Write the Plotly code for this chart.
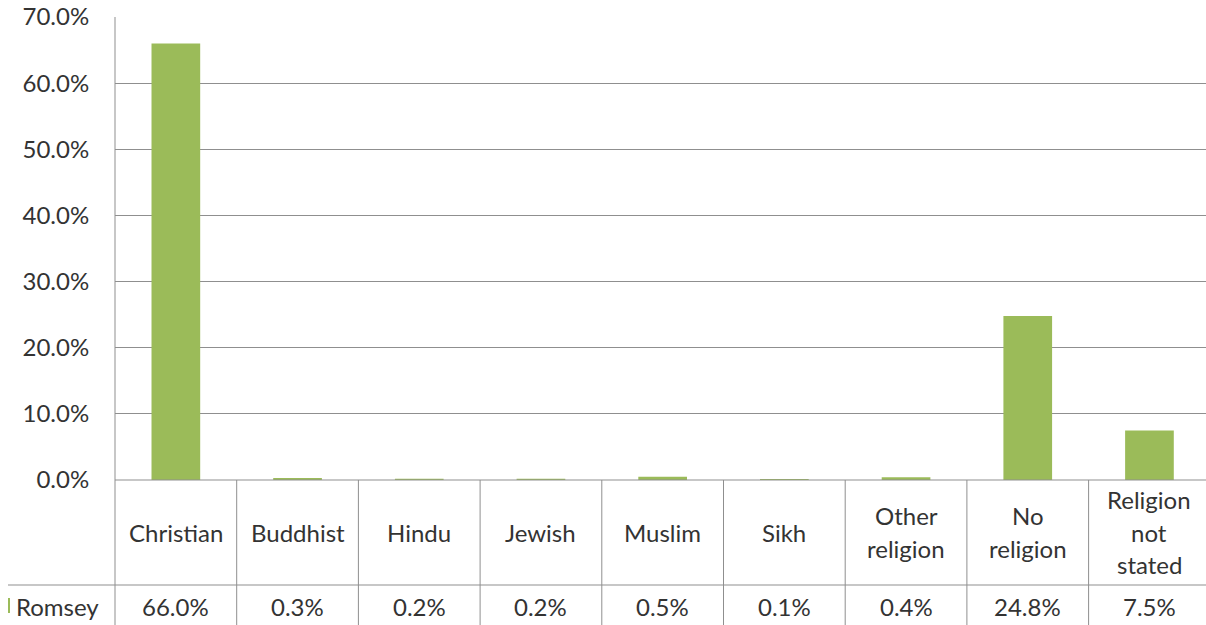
import plotly.graph_objects as go

categories = ["Christian", "Buddhist", "Hindu", "Jewish", "Muslim", "Sikh",
              "Other<br>religion", "No<br>religion", "Religion<br>not<br>stated"]
values = [0.660, 0.003, 0.002, 0.002, 0.005, 0.0014, 0.004, 0.248, 0.075]
value_labels = ["66.0%", "0.3%", "0.2%", "0.2%", "0.5%", "0.1%", "0.4%", "24.8%", "7.5%"]
series_name = "Romsey"

W, H = 1206, 625
S_TOP, S_BOT, S_LEFT = 17, 480, 115
COLW = 121.7
T = S_TOP
B = H - S_BOT
L = S_LEFT
PH = H - T - B
PW = W - L
BAR = "#9BBB59"
GRID = "#8f8f8f"
TXT = "#333333"
FONT = "Lato, Calibri, Carlito, sans-serif"
FS = 24


def py(ys):
    return (S_BOT - ys) / PH


def px(xs_):
    return (xs_ - S_LEFT) / PW


xs = list(range(len(categories)))
fig = go.Figure()
fig.add_trace(go.Bar(x=xs, y=values, marker=dict(color=BAR, line=dict(width=0)),
                     width=0.4, showlegend=False, hoverinfo="skip"))

shapes = []
ann = []
shapes.append(dict(type="line", xref="paper", yref="paper", x0=0, x1=0,
                   y0=1, y1=py(H + 2), line=dict(color=GRID, width=1)))
shapes.append(dict(type="line", xref="paper", yref="paper", x0=0, x1=1,
                   y0=0, y1=0, line=dict(color=GRID, width=1)))
shapes.append(dict(type="line", xref="paper", yref="paper", x0=px(8), x1=1,
                   y0=py(585), y1=py(585), line=dict(color=GRID, width=1)))
for i in xs[:-1]:
    shapes.append(dict(type="line", xref="x", yref="paper", x0=i + 0.5, x1=i + 0.5,
                       y0=0, y1=py(H + 2), line=dict(color=GRID, width=1)))
shapes.append(dict(type="rect", xref="paper", yref="paper",
                   x0=px(8), x1=px(10), y0=py(613), y1=py(598),
                   fillcolor=BAR, line=dict(width=0)))

LINE = 32.5
for i, c in enumerate(categories):
    lines = c.split("<br>")
    n = len(lines)
    for k, t in enumerate(lines):
        yc = 532 + (k - (n - 1) / 2) * LINE
        ann.append(dict(x=i, xref="x", y=py(yc), yref="paper", text=t, showarrow=False,
                        xanchor="center", yanchor="middle",
                        font=dict(family=FONT, size=FS, color=TXT)))
    ann.append(dict(x=i, xref="x", y=py(606), yref="paper", text=value_labels[i],
                    showarrow=False, xanchor="center", yanchor="middle",
                    font=dict(family=FONT, size=FS, color=TXT)))
ann.append(dict(x=px(14), xref="paper", y=py(606), yref="paper", text=series_name,
                showarrow=False, xanchor="left", yanchor="middle",
                font=dict(family=FONT, size=FS, color=TXT)))

fig.update_layout(
    width=W, height=H, margin=dict(l=L, r=0, t=T, b=B),
    paper_bgcolor="white", plot_bgcolor="white",
    bargap=0.6, shapes=shapes, annotations=ann,
    xaxis=dict(range=[-0.5, -0.5 + PW / COLW],
               showticklabels=False, showgrid=False,
               zeroline=False, showline=False, fixedrange=True),
    yaxis=dict(range=[0, 0.70001], tickvals=[0, 0.1, 0.2, 0.3, 0.4, 0.5, 0.6, 0.7],
               tickformat=".1%",
               showgrid=True, gridcolor=GRID, gridwidth=1, zeroline=False,
               showline=False, ticks="outside", ticklen=20, tickcolor="rgba(0,0,0,0)",
               tickfont=dict(family=FONT, size=FS, color=TXT), fixedrange=True),
    font=dict(family=FONT, size=FS, color=TXT),
)
fig.write_html("out.html", config={"displayModeBar": False, "staticPlot": True},
               post_script="document.body.style.margin='0px';document.body.style.overflow='hidden';")
